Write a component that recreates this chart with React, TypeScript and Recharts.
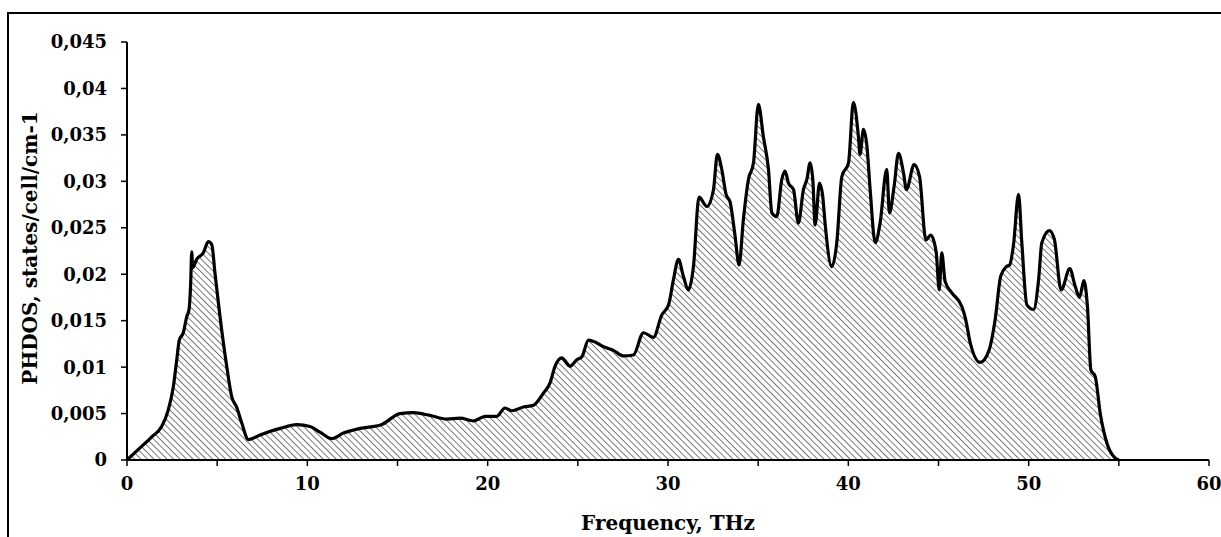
import { AreaChart, Area, XAxis, YAxis, Label } from 'recharts'

// frequency (THz) and phonon DOS
const freq = [
  0, 0.72, 1.37, 1.92, 2.29, 2.57, 2.76, 2.9, 3.12, 3.31, 3.44, 3.53, 3.59, 3.64, 3.86, 4.23, 4.51, 4.7, 4.88, 5.16,
  5.53, 5.81, 6.08, 6.36, 6.73, 7.38, 8.49, 9.41, 10.15, 10.7, 11.35, 12.0, 12.92, 14.1, 15.14, 15.88, 16.8, 17.73,
  18.47, 19.2, 19.86, 20.5, 20.96, 21.33, 21.98, 22.54, 23.09, 23.46, 23.74, 24.11, 24.57, 24.94, 25.22, 25.59,
  25.96, 26.42, 26.97, 27.53, 28.08, 28.64, 29.19, 29.65, 30.03, 30.3, 30.58, 30.85, 31.13, 31.41, 31.72, 32.15,
  32.52, 32.74, 32.98, 33.22, 33.44, 33.72, 33.94, 34.18, 34.46, 34.74, 35.01, 35.29, 35.57, 35.76, 36.03, 36.31,
  36.49, 36.68, 36.96, 37.23, 37.51, 37.7, 37.88, 38.03, 38.16, 38.4, 38.58, 38.71, 39.08, 39.36, 39.64, 40.01,
  40.28, 40.56, 40.65, 40.84, 41.03, 41.21, 41.49, 41.76, 42.13, 42.28, 42.54, 42.78, 43.06, 43.22, 43.65, 43.95,
  44.3, 44.57, 44.87, 45.04, 45.18, 45.37, 45.74, 46.3, 46.5, 46.76, 47.31, 47.8, 48.14, 48.45, 48.75, 48.95, 49.16,
  49.44, 49.62, 49.9, 50.27, 50.55, 50.73, 51.15, 51.42, 51.8, 52.28, 52.58, 52.82, 53.06, 53.26, 53.45, 53.69,
  53.97, 54.34, 54.8, 55,
]

const phdos = [
  0, 0.0013, 0.0025, 0.0036, 0.0054, 0.0079, 0.0108, 0.0129, 0.0137, 0.0154, 0.0162, 0.019, 0.0224, 0.0207, 0.0216,
  0.0223, 0.0235, 0.0232, 0.0201, 0.0154, 0.0101, 0.0068, 0.0057, 0.004, 0.0022, 0.0027, 0.0034, 0.0038, 0.0036,
  0.003, 0.0023, 0.0029, 0.0034, 0.0038, 0.005, 0.0051, 0.0048, 0.0044, 0.0045, 0.0042, 0.0047, 0.0047, 0.0056,
  0.0053, 0.0057, 0.0059, 0.0072, 0.0083, 0.0101, 0.011, 0.0101, 0.0108, 0.0111, 0.0129, 0.0127, 0.0122, 0.0118,
  0.0112, 0.0113, 0.0137, 0.0132, 0.0156, 0.0167, 0.0194, 0.0216, 0.0198, 0.0183, 0.0208, 0.0283, 0.0273, 0.0291,
  0.0329, 0.0313, 0.0286, 0.0278, 0.0241, 0.021, 0.0259, 0.0302, 0.032, 0.0383, 0.0348, 0.0313, 0.0266, 0.0262,
  0.0302, 0.0311, 0.0298, 0.0291, 0.0255, 0.0291, 0.0302, 0.032, 0.0302, 0.0253, 0.0298, 0.0284, 0.0255, 0.0208,
  0.0234, 0.0305, 0.032, 0.0385, 0.0348, 0.0329, 0.0356, 0.0338, 0.0291, 0.0234, 0.0255, 0.0313, 0.0266, 0.0295,
  0.033, 0.0309, 0.0291, 0.0318, 0.0305, 0.0237, 0.0242, 0.0224, 0.0183, 0.0223, 0.0192, 0.018, 0.0165, 0.0152,
  0.0126, 0.0105, 0.0118, 0.0151, 0.0198, 0.0208, 0.021, 0.0232, 0.0286, 0.0234, 0.0167, 0.0162, 0.0194, 0.0234,
  0.0247, 0.0238, 0.0183, 0.0206, 0.0187, 0.0175, 0.0193, 0.0165, 0.0097, 0.009, 0.005, 0.0018, 0.0002, 0,
]

const xTicks = [0, 5, 10, 15, 20, 25, 30, 35, 40, 45, 50, 55, 60]
const yTicks = [0, 0.005, 0.01, 0.015, 0.02, 0.025, 0.03, 0.035, 0.04, 0.045]

const data = freq.map((f, i) => ({ f, v: phdos[i] }))

const font = 'DejaVu Serif, serif'
const tickStyle = { fill: '#000', fontSize: 18, fontWeight: 'bold', fontFamily: font }

const fmtY = (v: number) => String(Number(v.toFixed(3))).replace('.', ',')
const fmtX = (v: number) => (v % 10 === 0 ? String(v) : '')

export default function App() {
  return (
    <div style={{ position: 'absolute', left: 0, top: 0, width: 1221, height: 537, background: '#fff' }}>
      <div
        style={{
          position: 'absolute',
          left: 7,
          top: 12,
          width: 1214,
          height: 525,
          borderLeft: '2px solid #000',
          borderTop: '2px solid #000',
        }}
      />
      <div style={{ position: 'absolute', left: 0, top: 0 }}>
        <AreaChart width={1221} height={537} data={data} margin={{ top: 42, right: 12, bottom: 0, left: 0 }}>
          <defs>
            <pattern id="hatch" width="4.6" height="4.6" patternUnits="userSpaceOnUse" patternTransform="rotate(-45)">
              <line x1="0" y1="0" x2="0" y2="4.6" stroke="#222" strokeWidth={1.2} />
            </pattern>
          </defs>
          <XAxis
            dataKey="f"
            type="number"
            domain={[0, 60]}
            ticks={xTicks}
            tickFormatter={fmtX}
            interval={0}
            height={77}
            tick={tickStyle}
            tickSize={6}
            tickMargin={11}
            axisLine={{ stroke: '#000', strokeWidth: 2 }}
            tickLine={{ stroke: '#000', strokeWidth: 1.5 }}
          >
            <Label
              value="Frequency, THz"
              position="insideBottom"
              offset={7}
              style={{ fill: '#000', fontSize: 20, fontWeight: 'bold', fontFamily: font }}
            />
          </XAxis>
          <YAxis
            type="number"
            domain={[0, 0.045]}
            ticks={yTicks}
            tickFormatter={fmtY}
            interval={0}
            width={127}
            tick={tickStyle}
            tickSize={6}
            tickMargin={14}
            axisLine={{ stroke: '#000', strokeWidth: 2 }}
            tickLine={{ stroke: '#000', strokeWidth: 1.5 }}
          >
            <Label
              content={() => (
                <text
                  x={30}
                  y={248}
                  transform="rotate(-90, 30, 248)"
                  textAnchor="middle"
                  dominantBaseline="central"
                  style={{ fill: '#000', fontSize: 20, fontWeight: 'bold', fontFamily: font }}
                >
                  PHDOS, states/cell/cm-1
                </text>
              )}
            />
          </YAxis>
          <Area
            type="monotone"
            dataKey="v"
            stroke="#000"
            strokeWidth={3.2}
            fill="url(#hatch)"
            fillOpacity={1}
            isAnimationActive={false}
            dot={false}
            activeDot={false}
          />
        </AreaChart>
      </div>
    </div>
  )
}
